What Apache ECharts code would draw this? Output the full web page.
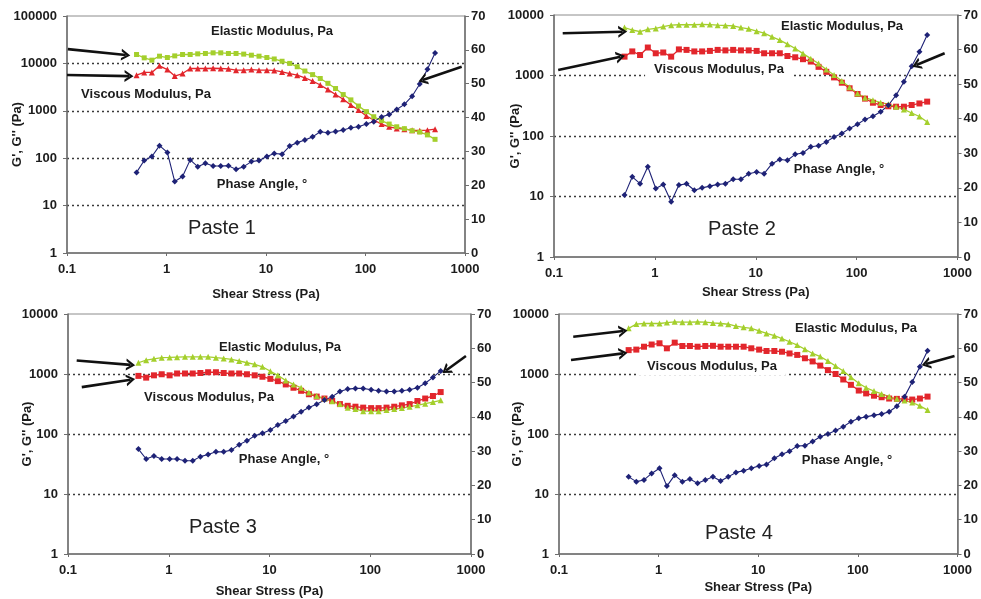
<!DOCTYPE html>
<html>
<head>
<meta charset="utf-8">
<script src="https://cdn.jsdelivr.net/npm/echarts@6/dist/echarts.min.js"></script>
<style>
  html, body { margin: 0; padding: 0; background: #fff; }
  #chart { width: 981px; height: 599px; }
</style>
</head>
<body>
<div id="chart"></div>
<script>
// shear stress steps (Pa), shared by all four pastes
const stress = [0.5, 0.597, 0.713, 0.851, 1.02, 1.21, 1.45, 1.73, 2.06, 2.46,
  2.94, 3.51, 4.19, 5.0, 5.97, 7.13, 8.51, 10.2, 12.1, 14.5,
  17.3, 20.6, 24.6, 29.4, 35.1, 41.9, 50.0, 59.7, 71.3, 85.1,
  102, 121, 145, 173, 206, 246, 294, 351, 419, 500]

const paste1Elastic = [15400, 13100, 11700, 14200, 13300, 14400, 15400, 15400, 15900, 16200,
  16700, 16700, 16200, 16200, 15700, 14900, 14200, 13300, 12400, 11100,
  10000, 8500, 6900, 5800, 4800, 3800, 2950, 2200, 1700, 1260,
  960, 750, 620, 525, 460, 420, 380, 355, 310, 250]
const paste1Viscous = [5650, 6450, 6450, 8900, 7400, 5400, 6100, 7800, 7800, 7800,
  7900, 7800, 7700, 7200, 7200, 7400, 7200, 7200, 7100, 6600,
  6100, 5650, 4950, 4250, 3500, 2800, 2200, 1750, 1320, 1040,
  775, 640, 525, 460, 425, 410, 390, 380, 390, 410]
const paste1Phase = [23.8, 27.3, 28.5, 31.7, 29.7, 21.1, 22.6, 27.5, 25.5, 26.5,
  25.7, 25.7, 25.8, 24.7, 25.5, 27.0, 27.3, 28.5, 29.4, 29.2,
  31.6, 32.6, 33.4, 34.3, 35.8, 35.5, 35.9, 36.3, 37.0, 37.3,
  38.1, 38.8, 40.2, 40.9, 42.4, 43.9, 46.3, 49.9, 54.3, 59.1]

const paste2Elastic = [6200, 5650, 5300, 5800, 6000, 6450, 6800, 6900, 6900, 6900,
  7000, 6950, 6800, 6700, 6600, 6200, 5900, 5400, 5000, 4350,
  3850, 3300, 2800, 2300, 1900, 1580, 1260, 1020, 810, 640,
  505, 430, 390, 355, 335, 305, 275, 240, 210, 170]
const paste2Viscous = [2050, 2500, 2180, 2900, 2330, 2400, 2050, 2700, 2650, 2500,
  2500, 2550, 2650, 2600, 2650, 2600, 2600, 2550, 2330, 2330,
  2330, 2100, 2000, 1860, 1700, 1390, 1150, 930, 760, 615,
  495, 415, 355, 325, 310, 305, 305, 325, 345, 370]
const paste2Phase = [17.9, 23.2, 21.2, 26.1, 19.8, 21.0, 16.0, 20.8, 21.2, 19.3,
  20.0, 20.5, 21.0, 21.2, 22.5, 22.5, 24.1, 24.6, 24.1, 27.0,
  28.2, 28.0, 29.7, 30.1, 31.9, 32.2, 33.3, 34.7, 35.7, 37.2,
  38.4, 39.8, 40.7, 42.0, 43.9, 46.8, 50.7, 55.2, 59.4, 64.2]

const paste3Elastic = [1540, 1700, 1790, 1870, 1890, 1910, 1930, 1930, 1930, 1930,
  1870, 1820, 1750, 1650, 1540, 1450, 1320, 1110, 950, 780,
  670, 590, 490, 430, 390, 350, 315, 275, 260, 240,
  240, 240, 250, 260, 270, 285, 300, 320, 340, 365]
const paste3Viscous = [930, 870, 950, 990, 950, 1020, 1020, 1020, 1040, 1070,
  1070, 1040, 1020, 1020, 990, 950, 900, 830, 760, 670,
  590, 525, 460, 420, 390, 355, 315, 295, 285, 275,
  270, 270, 275, 285, 300, 315, 355, 390, 430, 500]
const paste3Phase = [30.6, 27.7, 28.6, 27.7, 27.7, 27.7, 27.2, 27.2, 28.4, 29.0,
  29.8, 29.8, 30.3, 31.9, 33.0, 34.5, 35.2, 36.2, 37.6, 38.8,
  40.1, 41.5, 42.7, 43.7, 44.9, 45.9, 47.4, 48.1, 48.3, 48.3,
  47.9, 47.6, 47.4, 47.4, 47.6, 47.9, 48.5, 49.8, 51.5, 53.4]

const paste4Elastic = [5770, 6800, 6950, 6950, 6950, 7200, 7400, 7300, 7300, 7400,
  7300, 7100, 6950, 6750, 6300, 6000, 5770, 5250, 4750, 4350,
  3900, 3450, 3030, 2580, 2200, 1950, 1650, 1360, 1120, 880,
  700, 590, 520, 465, 420, 385, 360, 335, 295, 250]
const paste4Viscous = [2500, 2550, 2850, 3100, 3250, 2680, 3330, 2930, 2930, 2850,
  2930, 2950, 2850, 2850, 2850, 2850, 2680, 2550, 2420, 2420,
  2350, 2200, 2080, 1830, 1620, 1380, 1160, 1000, 810, 660,
  530, 475, 435, 410, 390, 385, 385, 375, 390, 420]
const paste4Phase = [22.5, 21.1, 21.6, 23.5, 25.0, 19.8, 23.0, 21.1, 21.9, 20.6,
  21.6, 22.5, 21.3, 22.5, 23.8, 24.3, 25.0, 25.7, 26.1, 27.9,
  29.1, 30.0, 31.5, 31.6, 32.8, 34.2, 35.0, 36.0, 37.1, 38.6,
  39.6, 40.0, 40.5, 40.8, 41.5, 43.1, 45.9, 50.2, 54.6, 59.3]

const rightTicks = [0, 10, 20, 30, 40, 50, 60, 70]

// annotation arrows, [from, to] in (stress, modulus) data space
const paste1Arrows = [[[0.102, 20000], [0.39, 15000]], [[0.1, 5700], [0.42, 5400]], [[926, 8500], [376, 4460]]]
const paste2Arrows = [[[0.122, 5000], [0.48, 5300]], [[0.11, 1230], [0.457, 2040]], [[745, 2330], [391, 1490]]]
const paste3Arrows = [[[0.122, 1680], [0.419, 1420]], [[0.137, 605], [0.419, 803]], [[891, 2000], [565, 1145]]]
const paste4Arrows = [[[0.139, 4170], [0.44, 5200]], [[0.132, 1710], [0.44, 2210]], [[933, 2000], [482, 1470]]]

const FONT = '"Liberation Sans", Arial, sans-serif'
const GREEN = '#a4cf2c', RED = '#e2262c', NAVY = '#1e2276'
const AXIS = '#6e6e6e', TXT = '#1c1c1c'
// open chevron head, tip pointing up (markLine rotates it along the line)
const CHEVRON = 'path://M0,10 L6,0 L12,10 L9.4,10 L6,4.2 L2.6,10 Z'

const panels = [
  { title: 'Paste 1', el: paste1Elastic, vi: paste1Viscous, ph: paste1Phase, arrows: paste1Arrows,
    yMax: 100000, grid: { left: 67, top: 16, width: 398, height: 237 }, xGap: 35, yGap: 43, p1: true,
    txt: { el: [272, 31], vi: [146, 94], ph: [262, 184], pa: [222, 228] }, viBg: false },
  { title: 'Paste 2', el: paste2Elastic, vi: paste2Viscous, ph: paste2Phase, arrows: paste2Arrows,
    yMax: 10000, grid: { left: 554, top: 15, width: 404, height: 242 }, xGap: 29, yGap: 32,
    txt: { el: [842, 26], vi: [719, 69], ph: [839, 169], pa: [742, 229] }, viBg: true },
  { title: 'Paste 3', el: paste3Elastic, vi: paste3Viscous, ph: paste3Phase, arrows: paste3Arrows,
    yMax: 10000, grid: { left: 68, top: 314, width: 403, height: 241 }, xGap: 31, yGap: 34,
    txt: { el: [280, 347], vi: [209, 397], ph: [284, 459], pa: [223, 527] }, viBg: false },
  { title: 'Paste 4', el: paste4Elastic, vi: paste4Viscous, ph: paste4Phase, arrows: paste4Arrows,
    yMax: 10000, grid: { left: 559, top: 314, width: 400, height: 240 }, xGap: 27, yGap: 35,
    txt: { el: [856, 328], vi: [712, 366], ph: [847, 460], pa: [739, 533] }, viBg: true }
]

const fmt = v => String(+(+v).toPrecision(6))
const labelStyle = { color: TXT, fontFamily: FONT, fontWeight: 'bold', fontSize: 13 }

const option = { animation: false, grid: [], xAxis: [], yAxis: [], series: [], graphic: [] }

panels.forEach((p, i) => {
  option.grid.push(Object.assign({ show: true, borderColor: '#8c8c8c', borderWidth: 1 }, p.grid))

  option.xAxis.push({
    type: 'log', logBase: 10, min: 0.1, max: 1000, gridIndex: i,
    name: 'Shear Stress (Pa)', nameLocation: 'middle', nameGap: p.xGap, nameMoveOverlap: false,
    nameTextStyle: labelStyle,
    axisLine: { onZero: false, lineStyle: { color: AXIS, width: 1.5 } },
    axisTick: { length: 3, lineStyle: { color: AXIS } },
    axisLabel: Object.assign({ margin: 10, formatter: fmt }, labelStyle),
    splitLine: { show: false }, minorTick: { show: false }
  })
  option.yAxis.push({
    type: 'log', logBase: 10, min: 1, max: p.yMax, gridIndex: i, position: 'left',
    name: "G', G'' (Pa)", nameLocation: 'middle', nameGap: p.yGap, nameRotate: 90,
    nameMoveOverlap: false, nameTextStyle: labelStyle,
    axisLine: { show: true, onZero: false, lineStyle: { color: AXIS, width: 1.5 } },
    axisTick: { show: true, length: 4, lineStyle: { color: AXIS } },
    axisLabel: Object.assign({ margin: 10, formatter: fmt }, labelStyle),
    splitLine: { show: true, showMinLine: false, showMaxLine: false,
      lineStyle: { type: [2, 3], color: '#3a3a3a', width: 1.3 } },
    minorTick: { show: false }
  })
  option.yAxis.push({
    type: 'value', min: rightTicks[0], max: rightTicks[rightTicks.length - 1], interval: 10,
    gridIndex: i, position: 'right',
    axisLine: { show: true, onZero: false, lineStyle: { color: AXIS, width: 1.5 } },
    axisTick: { show: true, length: 4, lineStyle: { color: AXIS } },
    axisLabel: Object.assign({ margin: 6 }, labelStyle),
    splitLine: { show: false }
  })

  const pts = arr => stress.map((x, k) => [x, arr[k]])
  option.series.push({
    type: 'line', xAxisIndex: i, yAxisIndex: 2 * i, data: pts(p.vi),
    symbol: p.p1 ? 'triangle' : 'rect', symbolSize: 6,
    lineStyle: { color: RED, width: 1.3 }, itemStyle: { color: RED }
  })
  option.series.push({
    type: 'line', xAxisIndex: i, yAxisIndex: 2 * i, data: pts(p.el),
    symbol: p.p1 ? 'rect' : 'triangle', symbolSize: p.p1 ? 5 : 6,
    lineStyle: { color: GREEN, width: 1.3 }, itemStyle: { color: GREEN },
    markLine: {
      silent: true, symbol: ['none', CHEVRON], symbolSize: [12, 9],
      label: { show: false },
      lineStyle: { color: '#111', width: 2.6, type: 'solid' },
      itemStyle: { color: '#111' },
      data: p.arrows.map(a => [{ coord: a[0] }, { coord: a[1] }])
    }
  })
  option.series.push({
    type: 'line', xAxisIndex: i, yAxisIndex: 2 * i + 1, data: pts(p.ph),
    symbol: 'diamond', symbolSize: 6,
    lineStyle: { color: NAVY, width: 1.1 }, itemStyle: { color: NAVY }
  })

  const note = (pos, text, extra) => ({
    type: 'text', x: pos[0], y: pos[1], z: 1,
    style: Object.assign({ text, fill: TXT, align: 'center', verticalAlign: 'middle',
      font: 'bold 13px ' + FONT }, extra || {})
  })
  option.graphic.push(note(p.txt.el, 'Elastic Modulus, Pa'))
  option.graphic.push(note(p.txt.vi, 'Viscous Modulus, Pa',
    p.viBg ? { backgroundColor: '#fff', padding: [3, 9] } : null))
  option.graphic.push(note(p.txt.ph, 'Phase Angle, \u00b0'))
  option.graphic.push(note(p.txt.pa, p.title, { font: '20px ' + FONT, fill: '#222' }))
})

const c = echarts.init(document.getElementById('chart'))
c.setOption(option)
window.addEventListener('resize', () => c.resize())
</script>
</body>
</html>
